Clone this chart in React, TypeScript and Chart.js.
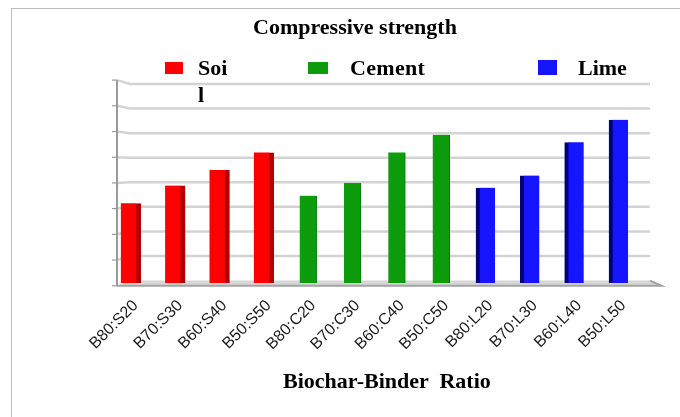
import React, { useEffect, useRef } from "react";
import { Chart, registerables } from "chart.js";

Chart.register(...registerables);

// ---- data ----
const CATEGORIES = [
  "B80:S20", "B70:S30", "B60:S40", "B50:S50",
  "B80:C20", "B70:C30", "B60:C40", "B50:C50",
  "B80:L20", "B70:L30", "B60:L40", "B50:L50",
];
const SOIL_VALUES = [1.59, 1.94, 2.25, 2.6];
const CEMENT_VALUES = [1.74, 1.99, 2.6, 2.95];
const LIME_VALUES = [1.9, 2.14, 2.8, 3.25];
const Y_MIN = 0;
const Y_MAX = 4;
const Y_STEP = 0.5;

const TITLE = "Compressive strength";
const X_TITLE = "Biochar-Binder  Ratio";
const SERIES_NAMES = ["Soil", "Cement", "Lime"];

const pad = (vals: number[], start: number) =>
  CATEGORIES.map((_, i) => (i >= start && i < start + vals.length ? vals[i - start] : null));

// 3D-looking back wall, floor and axis
const wallPlugin = {
  id: "wall3d",
  beforeDatasetsDraw(chart: any) {
    const { ctx, chartArea: a, scales } = chart;
    const y = scales.y;
    const cy = a.top + (a.bottom - a.top) * 0.43;
    const front = (p: number) => cy + (p - cy) * 1.022;
    const back = (p: number) => cy + (p - cy) * 0.977;
    const xF = a.left + 8.4;
    const xB = a.left + 21.4;
    const xBR = a.right + 9.3;
    const xFR = a.right + 21;
    ctx.save();
    for (let v = Y_MIN + Y_STEP; v <= Y_MAX + 1e-9; v += Y_STEP) {
      const p = y.getPixelForValue(v);
      const f = front(p);
      const b = back(p);
      ctx.strokeStyle = "#d3d3d3";
      ctx.lineWidth = 2.5;
      ctx.beginPath();
      ctx.moveTo(xF, f);
      ctx.lineTo(xB, b);
      ctx.lineTo(xBR, b);
      ctx.stroke();
      ctx.strokeStyle = "#9a9a9a";
      ctx.lineWidth = 1.2;
      ctx.beginPath();
      ctx.moveTo(xF - 5, f);
      ctx.lineTo(xF, f);
      ctx.stroke();
    }
    const p0 = y.getPixelForValue(Y_MIN);
    const f0 = front(p0);
    const b0 = back(p0);
    ctx.fillStyle = "#d6d6d6";
    ctx.beginPath();
    ctx.moveTo(xF, f0);
    ctx.lineTo(xB, b0);
    ctx.lineTo(xBR, b0);
    ctx.lineTo(xFR, f0);
    ctx.closePath();
    ctx.fill();
    ctx.strokeStyle = "#a3a3a3";
    ctx.lineWidth = 2;
    ctx.beginPath();
    ctx.moveTo(xF, f0);
    ctx.lineTo(xFR, f0);
    ctx.lineTo(xBR, b0);
    ctx.stroke();
    const pTop = y.getPixelForValue(Y_MAX);
    ctx.strokeStyle = "#9a9a9a";
    ctx.lineWidth = 2;
    ctx.beginPath();
    ctx.moveTo(xF, front(pTop));
    ctx.lineTo(xF, f0);
    ctx.stroke();
    ctx.lineWidth = 1.2;
    ctx.beginPath();
    ctx.moveTo(xF - 5, f0);
    ctx.lineTo(xF, f0);
    ctx.stroke();
    ctx.restore();
  },
};

const serif = '"Liberation Serif", "Times New Roman", serif';

export default function App() {
  const canvasRef = useRef<HTMLCanvasElement | null>(null);

  useEffect(() => {
    if (!canvasRef.current) return;
    const chart = new Chart(canvasRef.current, {
      type: "bar",
      data: {
        labels: CATEGORIES,
        datasets: [
          {
            label: SERIES_NAMES[0],
            data: pad(SOIL_VALUES, 0),
            backgroundColor: "#ff0000",
            borderColor: "#b00000",
            borderWidth: { top: 0, left: 0, bottom: 0, right: 5 },
            borderSkipped: false,
            barThickness: 20,
            grouped: false,
          },
          {
            label: SERIES_NAMES[1],
            data: pad(CEMENT_VALUES, 4),
            backgroundColor: "#0c9c0c",
            borderColor: "#067a06",
            borderWidth: { top: 0, left: 0, bottom: 0, right: 1 },
            borderSkipped: false,
            barThickness: 17,
            grouped: false,
          },
          {
            label: SERIES_NAMES[2],
            data: pad(LIME_VALUES, 8),
            backgroundColor: "#1515ff",
            borderColor: "#00007a",
            borderWidth: { top: 0, left: 4, bottom: 0, right: 0 },
            borderSkipped: false,
            barThickness: 19,
            grouped: false,
          },
        ] as any,
      },
      options: {
        animation: false,
        responsive: false,
        devicePixelRatio: 1,
        layout: { padding: { left: 108.6, right: 39.3, top: 82, bottom: 0 } },
        plugins: {
          legend: { display: false },
          title: { display: false },
          tooltip: { enabled: false },
        },
        scales: {
          x: {
            offset: true,
            grid: { display: false, drawTicks: false },
            border: { display: false },
            ticks: {
              autoSkip: false,
              minRotation: 45,
              maxRotation: 45,
              padding: 13,
              labelOffset: 5,
              color: "#1a1a1a",
              font: { family: '"Liberation Sans", Arial, sans-serif', size: 16 },
            },
            afterFit: (s: any) => {
              s.height = 417 - 283.2;
            },
          },
          y: {
            display: false,
            min: Y_MIN,
            max: Y_MAX,
            ticks: { stepSize: Y_STEP },
          },
        },
      } as any,
      plugins: [wallPlugin],
    });
    return () => chart.destroy();
  }, []);

  const text: React.CSSProperties = {
    position: "absolute",
    fontFamily: serif,
    fontWeight: "bold",
    fontSize: 22,
    lineHeight: "22px",
    color: "#000",
    whiteSpace: "pre",
  };

  return (
    <div
      style={{
        position: "fixed",
        left: 0,
        top: 0,
        width: 680,
        height: 417,
        background: "#fff",
        overflow: "hidden",
      }}
    >
      <div
        style={{
          position: "absolute",
          left: 11,
          top: 8,
          width: 700,
          height: 430,
          borderLeft: "1px solid #bdbdbd",
          borderTop: "1px solid #bdbdbd",
        }}
      />
      <canvas
        ref={canvasRef}
        width={680}
        height={417}
        style={{ position: "absolute", left: 0, top: 0, width: 680, height: 417 }}
      />
      <div style={{ ...text, left: 253, top: 15.6 }}>{TITLE}</div>
      <div style={{ position: "absolute", left: 165, top: 62, width: 18, height: 12, background: "#ff0000" }} />
      <div
        style={{
          ...text,
          left: 198,
          top: 53.7,
          width: 32,
          lineHeight: "27.7px",
          whiteSpace: "normal",
          wordBreak: "break-all",
        }}
      >
        {SERIES_NAMES[0]}
      </div>
      <div style={{ position: "absolute", left: 308, top: 62, width: 20, height: 12, background: "#0c9c0c" }} />
      <div style={{ ...text, left: 350, top: 56.6, letterSpacing: 0.3 }}>{SERIES_NAMES[1]}</div>
      <div style={{ position: "absolute", left: 538, top: 60, width: 19, height: 15, background: "#1515ff" }} />
      <div style={{ ...text, left: 578, top: 56.6 }}>{SERIES_NAMES[2]}</div>
      <div style={{ ...text, left: 283, top: 369.6 }}>{X_TITLE}</div>
    </div>
  );
}
